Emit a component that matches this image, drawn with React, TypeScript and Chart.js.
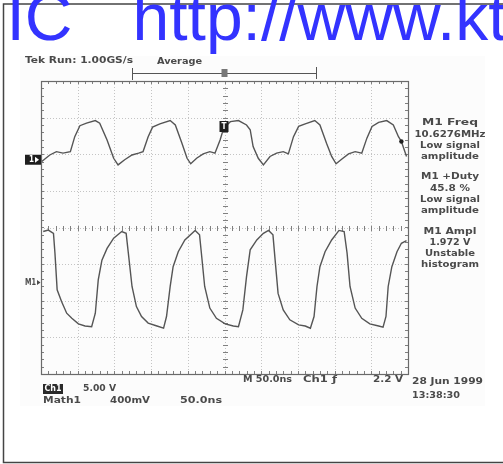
import React, { useEffect, useRef } from "react";
import { Chart, registerables } from "chart.js";

Chart.register(...registerables);

// ---- Data (time in ns, level in graticule divisions from bottom) ----
const ch1Time = [1, 12, 21, 30, 40, 46, 53, 62, 74, 80, 90, 99, 105, 114, 124, 133, 139, 146, 152, 162, 176, 183, 192, 199, 204, 212, 221, 230, 237, 244, 249, 258, 269, 280, 285, 289, 296, 303, 312, 321, 330, 337, 344, 351, 360, 373, 380, 389, 396, 402, 410, 419, 428, 437, 444, 451, 460, 471, 480, 487, 491, 498];
const ch1Div = [5.80, 5.98, 6.07, 6.03, 6.07, 6.48, 6.78, 6.85, 6.92, 6.85, 6.39, 5.89, 5.71, 5.85, 5.98, 6.03, 6.07, 6.48, 6.74, 6.83, 6.92, 6.80, 6.30, 5.89, 5.74, 5.89, 6.01, 6.07, 6.03, 6.39, 6.72, 6.89, 6.92, 6.80, 6.67, 6.21, 5.89, 5.71, 5.94, 6.03, 6.07, 6.01, 6.48, 6.76, 6.83, 6.92, 6.80, 6.30, 5.94, 5.74, 5.87, 6.01, 6.07, 6.03, 6.44, 6.76, 6.87, 6.92, 6.80, 6.48, 6.35, 5.94];

const math1Time = [3, 10, 17, 19, 22, 28, 35, 42, 51, 60, 69, 74, 78, 83, 90, 99, 110, 116, 119, 124, 130, 137, 146, 158, 167, 171, 176, 180, 187, 196, 210, 216, 219, 223, 230, 239, 251, 262, 269, 275, 280, 285, 294, 303, 310, 316, 319, 323, 330, 339, 351, 360, 367, 372, 376, 380, 387, 396, 406, 413, 417, 421, 428, 437, 448, 460, 466, 470, 473, 478, 485, 491, 498];
const math1Div = [3.89, 3.93, 3.84, 3.30, 2.30, 1.98, 1.66, 1.52, 1.37, 1.31, 1.29, 1.66, 2.57, 3.11, 3.43, 3.71, 3.89, 3.84, 3.30, 2.39, 1.84, 1.57, 1.39, 1.31, 1.25, 1.57, 2.39, 2.93, 3.34, 3.66, 3.92, 3.80, 3.20, 2.39, 1.80, 1.52, 1.37, 1.31, 1.29, 1.75, 2.66, 3.39, 3.66, 3.84, 3.92, 3.80, 3.11, 2.20, 1.75, 1.48, 1.34, 1.31, 1.25, 1.57, 2.39, 2.93, 3.34, 3.66, 3.92, 3.89, 3.30, 2.39, 1.80, 1.52, 1.37, 1.31, 1.28, 1.57, 2.39, 2.93, 3.34, 3.57, 3.64];

const xDivisionsNs = [0, 50, 100, 150, 200, 250, 300, 350, 400, 450, 500];
const yDivisions = [0, 1, 2, 3, 4, 5, 6, 7, 8];

const ch1GroundDiv = 5.85;
const math1GroundDiv = 2.5;
const triggerTimeNs = 250;
const triggerLevelDiv = 6.35;
const triggerLevelTimeNs = 491;

const titleLeft = "IC";
const titleRight = "http://www.kt";
const headerText = "Tek Run: 1.00GS/s";
const acqText = "Average";
const measLines = [
  "M1 Freq", "10.6276MHz", "Low signal", "amplitude",
  "M1 +Duty", "45.8 %", "Low signal", "amplitude",
  "M1 Ampl", "1.972 V", "Unstable", "histogram",
];
const ch1Label = "Ch1";
const ch1Scale = "5.00 V";
const math1Label = "Math1";
const math1Scale = "400mV";
const math1Time2 = "50.0ns";
const horizText = "M 50.0ns";
const trigSrcText = "Ch1 \u0192";
const trigLvlText = "2.2 V";
const dateText = "28 Jun 1999";
const timeText = "13:38:30";

const SCOPE_FONT = "bold 8px 'DejaVu Sans'";
const TEXT_COLOR = "#4a4a4a";

function fitText(ctx: CanvasRenderingContext2D, s: string, x: number, y: number, w: number, align: "left" | "center" = "left") {
  const m = ctx.measureText(s).width || 1;
  const sx = w / m;
  const x0 = align === "center" ? x - w / 2 : x;
  ctx.save();
  ctx.translate(x0, y);
  ctx.scale(sx, 1);
  ctx.textAlign = "left";
  ctx.textBaseline = "middle";
  ctx.fillText(s, 0, 0);
  ctx.restore();
}

const scopePlugin = {
  id: "scope",
  beforeDraw(chart: any) {
    const ctx: CanvasRenderingContext2D = chart.ctx;
    const W = chart.width;
    ctx.save();
    ctx.fillStyle = "#ffffff";
    ctx.fillRect(0, 0, W, chart.height);
    ctx.fillStyle = "#fcfcfc";
    ctx.fillRect(20, 56, 465, 350);
    // outer frame
    ctx.strokeStyle = "#444";
    ctx.lineWidth = 1.5;
    ctx.beginPath();
    ctx.moveTo(W, 4);
    ctx.lineTo(3.5, 4);
    ctx.lineTo(3.5, 462.5);
    ctx.lineTo(W, 462.5);
    ctx.stroke();
    ctx.restore();
  },
  beforeDatasetsDraw(chart: any) {
    const ctx: CanvasRenderingContext2D = chart.ctx;
    const xs = chart.scales.x, ys = chart.scales.y;
    const { left, right, top, bottom } = chart.chartArea;
    ctx.save();
    // dotted grid
    ctx.strokeStyle = "#c4c4c4";
    ctx.lineWidth = 1;
    ctx.setLineDash([1, 2]);
    xDivisionsNs.slice(1, -1).forEach((v) => {
      const px = Math.round(xs.getPixelForValue(v)) + 0.5;
      ctx.beginPath();
      ctx.moveTo(px, top);
      ctx.lineTo(px, bottom);
      ctx.stroke();
    });
    yDivisions.slice(1, -1).forEach((v) => {
      const py = Math.round(ys.getPixelForValue(v)) + 0.5;
      ctx.beginPath();
      ctx.moveTo(left, py);
      ctx.lineTo(right, py);
      ctx.stroke();
    });
    ctx.setLineDash([]);
    // minor ticks
    ctx.strokeStyle = "#808080";
    const cx = Math.round(xs.getPixelForValue(250)) + 0.5;
    const cy = Math.round(ys.getPixelForValue(4)) + 0.5;
    for (let t = 10; t < 500; t += 10) {
      const px = Math.round(xs.getPixelForValue(t)) + 0.5;
      ctx.beginPath();
      ctx.moveTo(px, top); ctx.lineTo(px, top + 3);
      ctx.moveTo(px, bottom); ctx.lineTo(px, bottom - 3);
      ctx.moveTo(px, cy - 2.5); ctx.lineTo(px, cy + 2.5);
      ctx.stroke();
    }
    for (let d = 0.2; d < 7.99; d += 0.2) {
      const py = Math.round(ys.getPixelForValue(d)) + 0.5;
      ctx.beginPath();
      ctx.moveTo(left, py); ctx.lineTo(left + 3, py);
      ctx.moveTo(right, py); ctx.lineTo(right - 3, py);
      ctx.moveTo(cx - 2.5, py); ctx.lineTo(cx + 2.5, py);
      ctx.stroke();
    }
    // frame
    ctx.strokeStyle = "#6a6a6a";
    ctx.lineWidth = 1.2;
    ctx.strokeRect(Math.round(left) + 0.5, Math.round(top) + 0.5, Math.round(right - left), Math.round(bottom - top));
    ctx.restore();
  },
  afterDatasetsDraw(chart: any) {
    const ctx: CanvasRenderingContext2D = chart.ctx;
    const xs = chart.scales.x, ys = chart.scales.y;
    ctx.save();
    ctx.font = SCOPE_FONT;
    ctx.fillStyle = TEXT_COLOR;

    // header
    fitText(ctx, headerText, 25, 61, 108);
    fitText(ctx, acqText, 157, 61.5, 45);

    // record / trigger position bar
    const trigX = xs.getPixelForValue(triggerTimeNs);
    ctx.strokeStyle = "#555";
    ctx.lineWidth = 1;
    ctx.beginPath();
    ctx.moveTo(132, 73.5); ctx.lineTo(316, 73.5);
    ctx.moveTo(132.5, 68); ctx.lineTo(132.5, 80);
    ctx.moveTo(316.5, 67); ctx.lineTo(316.5, 79);
    ctx.stroke();
    ctx.fillStyle = "#777";
    ctx.fillRect(trigX - 3, 69, 6, 8);

    // Ch1 ground marker
    const gy = ys.getPixelForValue(ch1GroundDiv);
    ctx.fillStyle = "#1e1e1e";
    ctx.fillRect(25, gy - 5, 16, 10);
    ctx.fillStyle = "#ffffff";
    fitText(ctx, "1", 29, gy, 5);
    ctx.beginPath();
    ctx.moveTo(35, gy - 3); ctx.lineTo(39, gy); ctx.lineTo(35, gy + 3);
    ctx.closePath(); ctx.fill();

    // M1 marker
    ctx.fillStyle = TEXT_COLOR;
    const my = ys.getPixelForValue(math1GroundDiv);
    fitText(ctx, "M1", 25, my, 11);
    ctx.beginPath();
    ctx.moveTo(37, my - 2.5); ctx.lineTo(40.5, my); ctx.lineTo(37, my + 2.5);
    ctx.closePath(); ctx.fill();

    // T trigger marker on waveform
    ctx.fillStyle = "#1e1e1e";
    ctx.fillRect(trigX - 5, 121, 9, 11);
    ctx.fillStyle = "#ffffff";
    fitText(ctx, "T", trigX - 0.5, 126.5, 5, "center");

    // trigger level marker
    ctx.fillStyle = "#1e1e1e";
    ctx.beginPath();
    ctx.arc(xs.getPixelForValue(triggerLevelTimeNs), ys.getPixelForValue(triggerLevelDiv), 2.2, 0, Math.PI * 2);
    ctx.fill();

    // measurement readouts
    ctx.fillStyle = TEXT_COLOR;
    const measW = [56, 71, 60, 58, 58, 40, 60, 58, 53, 41, 50, 58];
    const measY = [123, 134.5, 146, 157, 177, 188.5, 200, 211, 231.5, 242.5, 253.5, 264.5];
    measLines.forEach((s, i) => fitText(ctx, s, 450, measY[i], measW[i], "center"));

    // bottom readouts
    ctx.fillStyle = "#2a2a2a";
    ctx.fillRect(43, 384, 20, 10);
    ctx.fillStyle = "#ffffff";
    fitText(ctx, ch1Label, 44.5, 389, 17);
    ctx.fillStyle = TEXT_COLOR;
    fitText(ctx, ch1Scale, 83, 388.5, 33);
    fitText(ctx, math1Label, 43, 401, 38);
    fitText(ctx, math1Scale, 110, 401, 40);
    fitText(ctx, math1Time2, 180, 401, 42);
    fitText(ctx, horizText, 243, 380, 49);
    fitText(ctx, trigSrcText, 303, 380, 34);
    fitText(ctx, trigLvlText, 373, 380, 30);
    fitText(ctx, dateText, 412, 382, 71);
    fitText(ctx, timeText, 412, 396, 48);

    // title overlay
    ctx.fillStyle = "#3333ff";
    ctx.font = "66px 'Liberation Sans', Arial, sans-serif";
    ctx.textAlign = "left";
    ctx.textBaseline = "alphabetic";
    ctx.fillText(titleLeft, 6.5, 40);
    ctx.fillText(titleRight, 132.5, 40);
    ctx.restore();
  },
};

export default function App() {
  const ref = useRef<HTMLCanvasElement | null>(null);

  useEffect(() => {
    const canvas = ref.current;
    if (!canvas) return;
    const ch1Data = ch1Time.map((t, i) => ({ x: t, y: ch1Div[i] }));
    const math1Data = math1Time.map((t, i) => ({ x: t, y: math1Div[i] }));
    const chart = new Chart(canvas, {
      type: "scatter",
      data: {
        datasets: [
          { label: "Ch1", data: ch1Data, showLine: true, borderColor: "#555555", borderWidth: 1.4, pointRadius: 0, tension: 0 },
          { label: "Math1", data: math1Data, showLine: true, borderColor: "#555555", borderWidth: 1.4, pointRadius: 0, tension: 0 },
        ],
      },
      options: {
        animation: false,
        responsive: false,
        maintainAspectRatio: false,
        events: [],
        layout: { padding: { left: 41, top: 81, right: 95, bottom: 90 } },
        plugins: {
          legend: { display: false },
          tooltip: { enabled: false },
          title: { display: false },
        },
        scales: {
          x: { type: "linear", min: 0, max: 500, display: false },
          y: { type: "linear", min: 0, max: 8, display: false },
        },
      },
      plugins: [scopePlugin],
    });
    return () => chart.destroy();
  }, []);

  return (
    <div style={{ position: "fixed", left: 0, top: 0, width: 503, height: 464, background: "#fff" }}>
      <canvas ref={ref} width={503} height={464} style={{ display: "block", width: 503, height: 464 }} />
    </div>
  );
}
